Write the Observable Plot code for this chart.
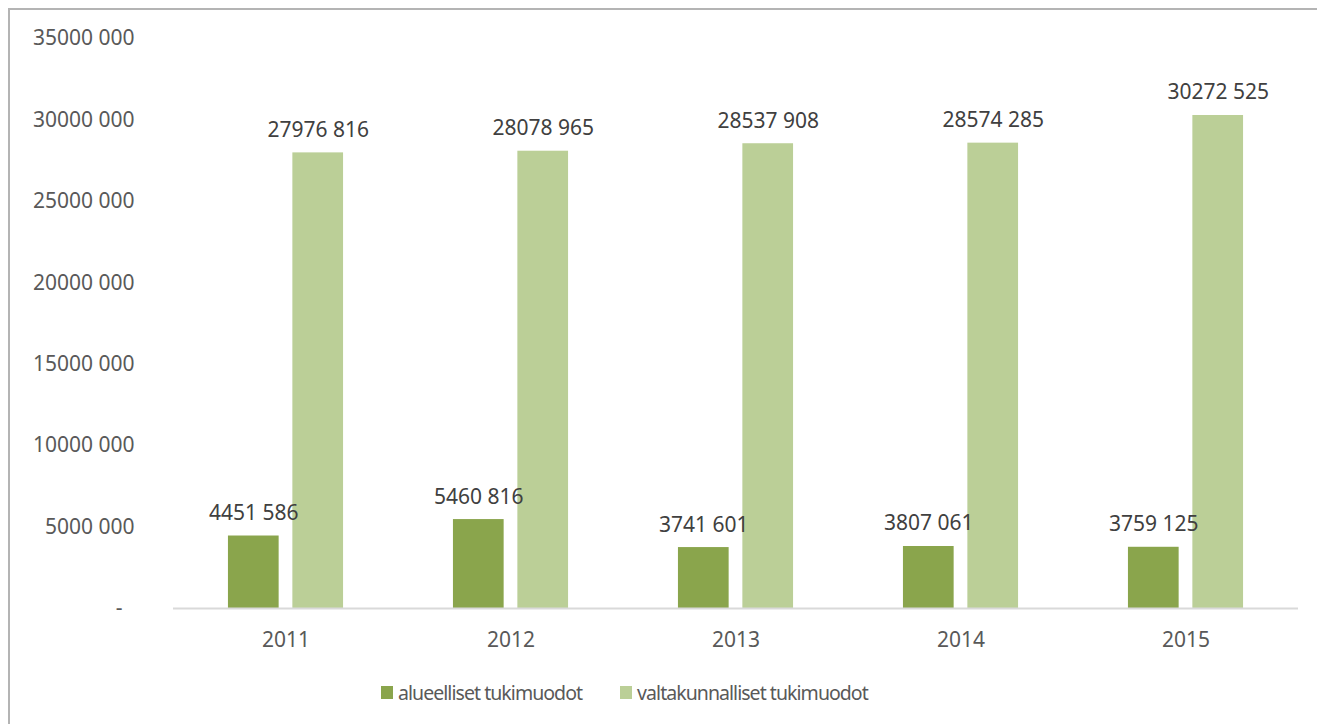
<!DOCTYPE html>
<html>
<head>
<meta charset="utf-8">
<script src="https://cdn.jsdelivr.net/npm/d3@7"></script>
<script src="https://cdn.jsdelivr.net/npm/@observablehq/plot@0.6"></script>
<style>
  html, body { margin: 0; padding: 0; background: #fff; }
  #frame { position: absolute; left: 8px; top: 8px; width: 1320px; height: 730px;
           border-left: 2px solid #b4b4b4; border-top: 2px solid #b4b4b4; }
  #chart { position: absolute; left: 0; top: 0; }
  #legend { position: absolute; top: 679px; left: 381px; display: flex; align-items: center;
            font-family: "Noto Sans", sans-serif; font-size: 19.5px; letter-spacing: -0.95px; color: #595959; }
  .item { display: flex; align-items: center; }
  .sw { width: 12px; height: 13px; display: inline-block; margin-right: 5px; }
</style>
</head>
<body>
<div id="frame"></div>
<div id="chart"></div>
<div id="legend"></div>
<script>
const years = ["2011", "2012", "2013", "2014", "2015"];
const seriesNames = ["alueelliset tukimuodot", "valtakunnalliset tukimuodot"];
const alueelliset = [4451586, 5460816, 3741601, 3807061, 3759125];
const valtakunnalliset = [27976816, 28078965, 28537908, 28574285, 30272525];
const yTicks = [0, 5000000, 10000000, 15000000, 20000000, 25000000, 30000000, 35000000];
const yTickLabels = ["-\u2007", "5000 000", "10000 000", "15000 000", "20000 000", "25000 000", "30000 000", "35000 000"];
const colors = ["#8aa54c", "#bbcf97"];

const data = [];
years.forEach((y, i) => {
  data.push({year: y, series: seriesNames[0], value: alueelliset[i]});
  data.push({year: y, series: seriesNames[1], value: valtakunnalliset[i]});
});

const fmt = v => Math.floor(v / 1000) + " " + String(v % 1000).padStart(3, "0");

const chart = Plot.plot({
  width: 1317,
  height: 660,
  marginLeft: 173,
  marginRight: 19,
  marginTop: 38,
  marginBottom: 52,
  style: {fontFamily: "Noto Sans, sans-serif", fontSize: "21px", background: "transparent"},
  fx: {domain: years, padding: 0, round: false, label: null},
  x: {domain: seriesNames, paddingInner: 0.213, paddingOuter: 0.853, round: false, axis: null},
  y: {domain: [0, 35000000], axis: null},
  color: {domain: seriesNames, range: colors},
  marks: [
    Plot.axisFx({anchor: "bottom", tickSize: 0, tickPadding: 24, fill: "#595959", fontSize: 21, label: null}),
    Plot.axisY({frameAnchor: "left", facetAnchor: "left", ticks: yTicks, tickFormat: (d) => yTickLabels[yTicks.indexOf(d)],
      tickSize: 0, tickPadding: 39, fill: "#595959", fontSize: 21, label: null}),
    Plot.barY(data, {fx: "year", x: "series", y: "value", fill: "series"}),
    Plot.ruleY([0], {stroke: "#d9d9d9", strokeWidth: 2}),
    Plot.text(data, {fx: "year", x: "series", y: "value", text: d => fmt(d.value),
      lineAnchor: "bottom", dy: -16, fill: "#404040", fontSize: 21})
  ]
});
document.getElementById("chart").appendChild(chart);

const legend = document.getElementById("legend");
seriesNames.forEach((name, i) => {
  const item = document.createElement("div");
  item.className = "item";
  if (i > 0) item.style.marginLeft = "38px";
  const sw = document.createElement("span");
  sw.className = "sw";
  sw.style.background = colors[i];
  item.appendChild(sw);
  const t = document.createElement("span");
  t.textContent = name;
  item.appendChild(t);
  legend.appendChild(item);
});
</script>
</body>
</html>
